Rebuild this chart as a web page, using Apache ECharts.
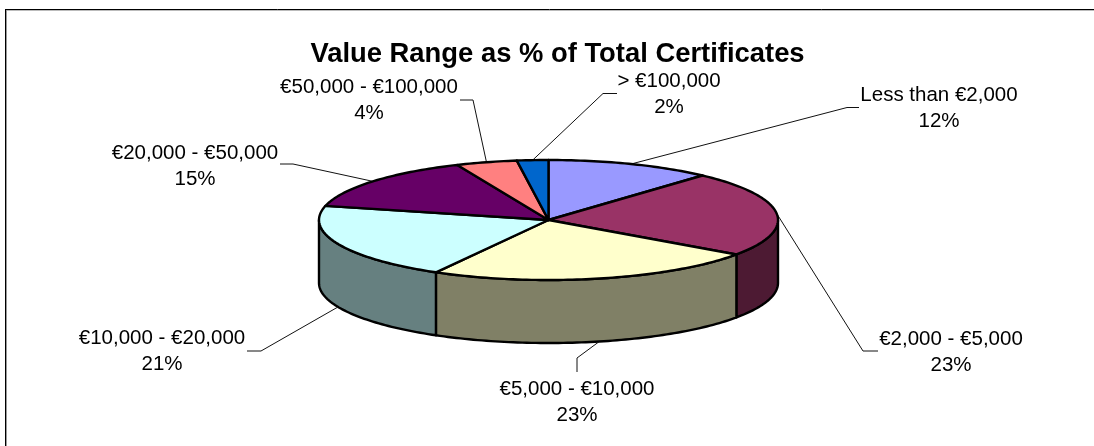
<!DOCTYPE html>
<html><head><meta charset="utf-8">
<style>html,body{margin:0;padding:0;background:#fff}#c{width:1094px;height:446px}</style>
<script src="https://cdn.jsdelivr.net/npm/echarts@6/dist/echarts.min.js"></script>
</head><body><div id="c"></div>
<script>
// ---- data ----
const categories = ['Less than €2,000','€2,000 - €5,000','€5,000 - €10,000','€10,000 - €20,000','€20,000 - €50,000','€50,000 - €100,000','> €100,000'];
const values = [11.7,23.0,23.4,20.6,14.7,4.3,2.2];
const topColors = ['#9999FF','#993366','#FFFFCC','#CCFFFF','#660066','#FF8080','#0066CC'];
const sideColors = ['#4D4D80','#4D1A33','#808066','#668080','#330033','#804040','#003366'];
const chartTitle = 'Value Range as % of Total Certificates';
// ---- layout ----
const pie = {cx:548.5, cy:220, rx:229.5, ry:60, depth:63};
const labelPos = [[939,95],[951,339],[577,389],[162,338],[195,153],[369,87],[669,81]];
const leaderBends = [
  [[847,107.5],[859,107.5]],
  [[863,351],[878,351]],
  [[577,358],[577,372]],
  [[261,351],[247,351]],
  [[293,164],[280,164]],
  [[473,100],[460,100]],
  [[603,93.5],[617,93.5]]
];
const FONT='"Liberation Sans", Arial, sans-serif';
const LH=26;
const total = values.reduce((a,b)=>a+b,0);
const starts = []; let acc=0; values.forEach(v=>{starts.push(acc/total*Math.PI*2); acc+=v;});
const ends = starts.map((s,i)=>s+values[i]/total*Math.PI*2);
const pt=(a,dy=0)=>[pie.cx+pie.rx*Math.sin(a), pie.cy-pie.ry*Math.cos(a)+dy];
function arc(a,b,dy=0){const n=Math.max(2,Math.ceil((b-a)/0.02));const out=[];for(let i=0;i<=n;i++)out.push(pt(a+(b-a)*i/n,dy));return out;}
const stroke={stroke:'#000',lineWidth:2.4,lineJoin:'round'};
function renderItem(params,api){
  const i=params.dataIndex, a=starts[i], b=ends[i];
  const kids=[];
  const s=Math.max(a,Math.PI/2), e=Math.min(b,Math.PI*1.5);
  if(e>s){
    const pts=arc(s,e).concat(arc(s,e,pie.depth).reverse());
    kids.push({type:'polygon',shape:{points:pts},style:{fill:sideColors[i],...stroke},z2:1});
  }
  kids.push({type:'polygon',shape:{points:[[pie.cx,pie.cy]].concat(arc(a,b))},style:{fill:topColors[i],...stroke},z2:10});
  const mid=(a+b)/2;
  const anchor=pt(mid,(mid>Math.PI/2&&mid<Math.PI*1.5)?pie.depth:0);
  kids.push({type:'polyline',shape:{points:[anchor].concat(leaderBends[i])},style:{fill:null,stroke:'#111',lineWidth:1},z2:5});
  kids.push({type:'text',x:labelPos[i][0],y:labelPos[i][1]-LH/2,z2:20,style:{
    text:categories[i]+'\n'+Math.round(api.value(0)/total*100)+'%',
    font:'20.5px '+FONT,fill:'#000',align:'center',verticalAlign:'top',lineHeight:LH}});
  return {type:'group',children:kids};
}
const edge=(x1,y1,x2,y2,c)=>({type:'line',shape:{x1,y1,x2,y2},style:{stroke:c,lineWidth:1},silent:true});
const chart=echarts.init(document.getElementById('c'),null,{renderer:'canvas'});
chart.setOption({
  animation:false,
  backgroundColor:'#fff',
  title:{text:chartTitle,left:552.5,top:36,textAlign:'center',textStyle:{fontFamily:FONT,fontWeight:'bold',fontSize:27.4,color:'#000'}},
  graphic:[
    edge(6,10.5,1094,10.5,'#bbbbbb'),edge(6.5,10,6.5,446,'#999999'),
    edge(5,9.5,1094,9.5,'#000'),edge(5.5,9,5.5,446,'#000')
  ],
  series:[{type:'custom',coordinateSystem:'none',clip:false,silent:true,
    data:values.map((v,i)=>({name:categories[i],value:[v]})),renderItem}]
});
</script></body></html>
